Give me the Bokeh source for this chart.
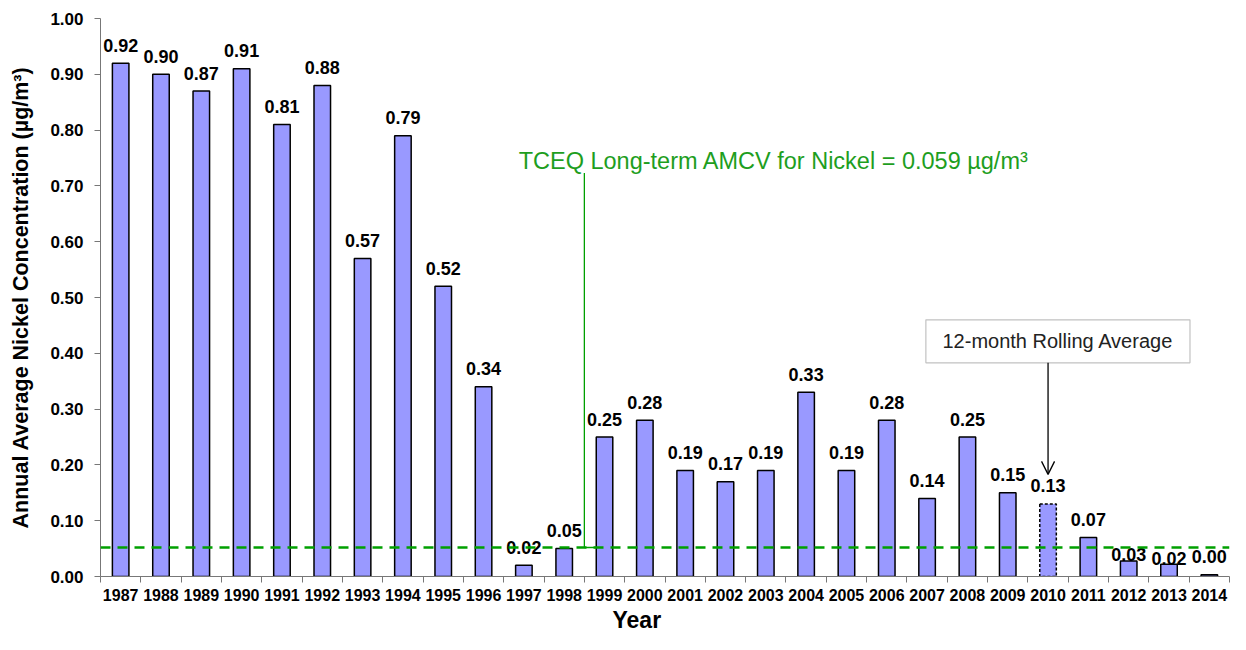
from bokeh.plotting import figure
from bokeh.models import (ColumnDataSource, FixedTicker, NumeralTickFormatter, Span,
                          Label, BoxAnnotation, Arrow, OpenHead, Range1d, Title)
from bokeh.core.properties import value
from bokeh.embed import file_html
from bokeh.resources import INLINE

# ---- data ----
years = [1987, 1988, 1989, 1990, 1991, 1992, 1993, 1994, 1995, 1996, 1997, 1998, 1999, 2000,
         2001, 2002, 2003, 2004, 2005, 2006, 2007, 2008, 2009, 2010, 2011, 2012, 2013, 2014]
values = [0.92, 0.90, 0.87, 0.91, 0.81, 0.88, 0.57, 0.79, 0.52, 0.34, 0.02, 0.05, 0.25, 0.28,
          0.19, 0.17, 0.19, 0.33, 0.19, 0.28, 0.14, 0.25, 0.15, 0.13, 0.07, 0.028, 0.022, 0.003]
labels = ["0.92", "0.90", "0.87", "0.91", "0.81", "0.88", "0.57", "0.79", "0.52", "0.34", "0.02",
          "0.05", "0.25", "0.28", "0.19", "0.17", "0.19", "0.33", "0.19", "0.28", "0.14", "0.25",
          "0.15", "0.13", "0.07", "0.03", "0.02", "0.00"]
rolling_year = 2010
amcv_line = 0.052
amcv_text = "TCEQ Long-term AMCV for Nickel = 0.059 µg/m³"
y_ticks = [0.0, 0.1, 0.2, 0.3, 0.4, 0.5, 0.6, 0.7, 0.8, 0.9, 1.0]

# ---- styles ----
BAR_FILL = "#9999FF"
GREEN = "#00A000"
GREEN_TEXT = "#1E9E1E"
FONT = "Liberation Sans"
label_gap = [-18] * len(years)
label_gap[years.index(2012)] = -6
label_gap[years.index(2013)] = -6

n = len(years)
centers = [i + 0.5 for i in range(n)]
bounds = list(range(n + 1))

solid_idx = [i for i, y in enumerate(years) if y != rolling_year]
dash_idx = [i for i, y in enumerate(years) if y == rolling_year]

src_solid = ColumnDataSource(dict(x=[centers[i] for i in solid_idx], top=[values[i] for i in solid_idx]))
src_dash = ColumnDataSource(dict(x=[centers[i] for i in dash_idx], top=[values[i] for i in dash_idx]))
src_lab = ColumnDataSource(dict(x=centers, y=values, t=labels, off=label_gap))

p = figure(width=1230, height=634, output_backend="svg", toolbar_location=None,
           x_range=Range1d(0, n), y_range=Range1d(0, 1.0),
           min_border_left=100, min_border_right=1, min_border_top=18, min_border_bottom=58)
p.outline_line_color = None
p.xgrid.visible = False
p.ygrid.visible = False
p.background_fill_color = "white"
p.border_fill_color = "white"

p.vbar(x="x", top="top", width=0.41, source=src_solid, fill_color=BAR_FILL,
       line_color="black", line_width=1.5)
p.vbar(x="x", top="top", width=0.41, source=src_dash, fill_color=BAR_FILL,
       line_color="black", line_width=1.5, line_dash="3 2")

p.text(x="x", y="y", text="t", source=src_lab, y_offset="off", text_align="center",
       text_baseline="alphabetic", text_font=value(FONT), text_font_style="bold",
       text_font_size="18px", text_color="black")

# AMCV dashed line
p.add_layout(Span(location=amcv_line, dimension="width", line_color=GREEN,
                  line_width=2.5, line_dash="10 7"))
# leader line from AMCV label
p.line(x=[12, 12, 12.3], y=[0.723, amcv_line, amcv_line], line_color=GREEN, line_width=1.3)
p.add_layout(Label(x=10.37, y=0.745, text=amcv_text, text_color=GREEN_TEXT,
                   text_font=FONT, text_font_size="23.5px", text_baseline="middle"))

# rolling average callout
ri = years.index(rolling_year)
p.add_layout(BoxAnnotation(left=20.47, right=27.02, bottom=0.383, top=0.460,
                           fill_color="white", fill_alpha=1.0, line_color="#333333",
                           line_width=1.2))
p.add_layout(Label(x=(20.47 + 27.02) / 2, y=0.4215, text="12-month Rolling Average",
                   text_align="center", text_baseline="middle", text_font=FONT,
                   text_font_size="20px", text_color="#222222"))
p.add_layout(Arrow(end=OpenHead(size=13, line_color="black", line_width=1.3),
                   x_start=centers[ri], y_start=0.383, x_end=centers[ri], y_end=0.183,
                   line_color="black", line_width=1.3))

# y axis
p.yaxis.ticker = FixedTicker(ticks=y_ticks)
p.yaxis.formatter = NumeralTickFormatter(format="0.00")
p.yaxis.major_tick_out = 6
p.yaxis.major_tick_in = 0
p.yaxis.minor_tick_line_color = None
p.yaxis.axis_line_color = "#777777"
p.yaxis.major_tick_line_color = "#777777"
p.yaxis.major_label_text_font = FONT
p.yaxis.major_label_text_font_style = "bold"
p.yaxis.major_label_text_font_size = "17px"
p.yaxis.major_label_text_color = "black"
p.yaxis.major_label_standoff = 11
p.yaxis.axis_label = "Annual Average Nickel Concentration (µg/m³)"
p.yaxis.axis_label_text_font = FONT
p.yaxis.axis_label_text_font_style = "bold"
p.yaxis.axis_label_text_font_size = "21.5px"
p.yaxis.axis_label_text_color = "black"
p.yaxis.axis_label_standoff = 14

# x axis
p.xaxis.ticker = FixedTicker(ticks=centers, minor_ticks=bounds)
p.xaxis.major_label_overrides = {c: str(y) for c, y in zip(centers, years)}
p.xaxis.major_tick_line_color = None
p.xaxis.minor_tick_out = 6
p.xaxis.minor_tick_in = 0
p.xaxis.minor_tick_line_color = "#777777"
p.xaxis.axis_line_color = "#777777"
p.xaxis.major_label_text_font = FONT
p.xaxis.major_label_text_font_style = "bold"
p.xaxis.major_label_text_font_size = "16px"
p.xaxis.major_label_text_color = "black"
p.xaxis.major_label_standoff = 6

# x axis title placed like the original (left of frame centre)
p.add_layout(Title(text="Year", align="left", offset=512, text_font=FONT,
                   text_font_style="bold", text_font_size="23px", text_color="black",
                   standoff=2), "below")

open("out.html", "w").write(file_html(p, INLINE))
